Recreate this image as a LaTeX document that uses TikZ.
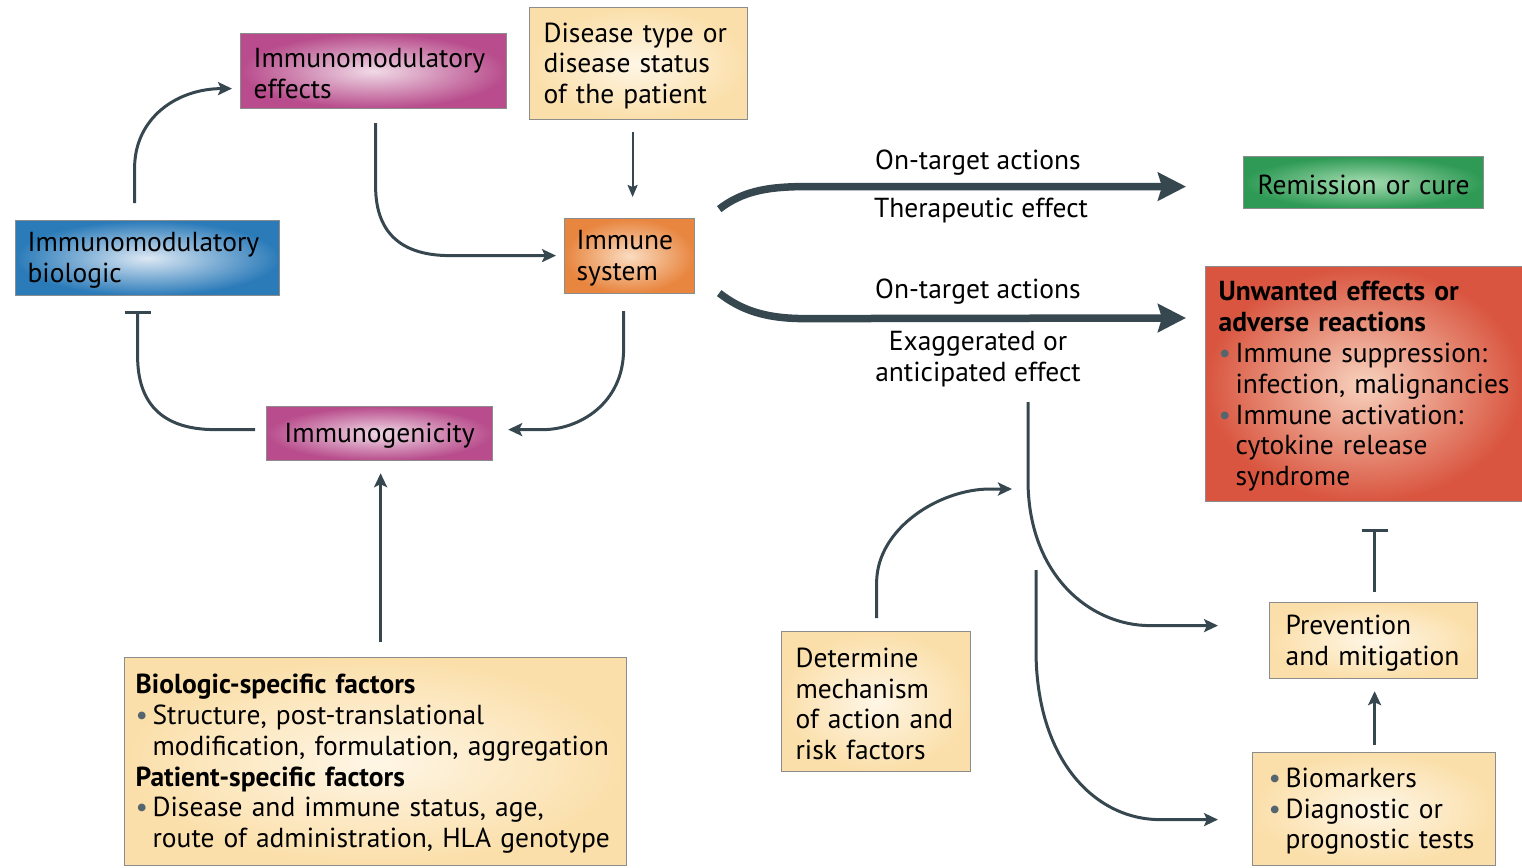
\documentclass[tikz,border=0pt]{standalone}
\usepackage{fontspec}
\setmainfont{PT Sans}
\usetikzlibrary{arrows.meta,calc}
\definecolor{arrowc}{HTML}{37474F}
\definecolor{bordc}{HTML}{8C8C8C}
\definecolor{magout}{HTML}{B84C8C}
\definecolor{magin}{HTML}{F0DAE6}
\definecolor{blueout}{HTML}{2B7BB9}
\definecolor{bluein}{HTML}{DCE8F4}
\definecolor{orout}{HTML}{E8853F}
\definecolor{orin}{HTML}{FADCC0}
\definecolor{yelout}{HTML}{FBDFAA}
\definecolor{yelin}{HTML}{FEF6E6}
\definecolor{grout}{HTML}{2E9A55}
\definecolor{grin}{HTML}{A6DDB2}
\definecolor{redout}{HTML}{D9553F}
\definecolor{redin}{HTML}{F7D2BE}
\definecolor{bulc}{HTML}{55656E}
\newcommand{\fsz}{\fontsize{27.5}{30.8}\selectfont}
\newcommand{\bulitem}{\makebox[17pt][l]{\textcolor{bulc}{\textbullet}}}
\newcommand{\bulind}{\hspace*{17pt}}
\newcommand{\topstrut}{\rule{0pt}{24pt}}
\begin{document}
\begin{tikzpicture}[x=1pt,y=-1pt,
  box/.style={draw=bordc,line width=1.2pt,anchor=north west,align=left,inner ysep=0pt,font=\fsz},
  mag/.style={box,inner color=magin,outer color=magout},
  yel/.style={box,inner color=yelin,outer color=yelout},
  lbl/.style={font=\fsz,inner sep=0pt},
  arr/.style={draw=arrowc,line width=3pt,-{Stealth[length=14pt,width=13pt,inset=3pt]}},
  thinarr/.style={draw=arrowc,line width=2pt,-{Stealth[length=12pt,width=10pt,inset=2pt]}},
  fat/.style={draw=arrowc,line width=7.5pt,-{Stealth[length=28pt,width=28pt,inset=4pt]}},
  tbar/.style={draw=arrowc,line width=3pt,-{Bar[width=26pt]}}]
\useasboundingbox (0,0) rectangle (1522,867);

% boxes
\node[mag,text width=240pt,inner xsep=13pt,minimum height=75pt] (effects) at (240,33) {\topstrut Immunomodulatory\\effects};
\node[yel,text width=190pt,inner xsep=14pt,minimum height=112pt] (disease) at (529,7) {\topstrut Disease type or\\disease status\\of the patient};
\node[box,inner color=bluein,outer color=blueout,text width=240pt,inner xsep=12pt,minimum height=75pt] (bio) at (15,220) {\topstrut Immunomodulatory\\biologic};
\node[box,inner color=orin,outer color=orout,text width=106pt,inner xsep=12pt,minimum height=75pt] (immune) at (564,218) {\topstrut Immune\\system};
\node[mag,align=center,text width=206pt,inner xsep=10pt,minimum height=54pt] (immgen) at (266,406) {\topstrut Immunogenicity};
\node[box,inner color=grin,outer color=grout,align=center,text width=220pt,inner xsep=10pt,minimum height=52pt] (remission) at (1243,156) {\topstrut Remission or cure};
\node[box,inner color=redin,outer color=redout,text width=291pt,inner xsep=13pt,minimum height=235pt] (unwanted) at (1205,266) {\topstrut\textbf{Unwanted effects or}\\\textbf{adverse reactions}\\\bulitem Immune suppression:\\\bulind infection, malignancies\\\bulitem Immune activation:\\\bulind cytokine release\\\bulind syndrome};
\node[yel,text width=480pt,inner xsep=11pt,minimum height=208pt] (factors) at (124,657) {\topstrut\textbf{Biologic-specific factors}\\\bulitem Structure, post-translational\\\bulind modification, formulation, aggregation\\\textbf{Patient-specific factors}\\\bulitem Disease and immune status, age,\\\bulind route of administration, HLA genotype};
\node[yel,text width=161pt,inner xsep=14pt,minimum height=140pt] (determine) at (781,631) {\topstrut Determine\\mechanism\\of action and\\risk factors};
\node[yel,text width=176pt,inner xsep=16pt,minimum height=76pt] (prevent) at (1269,602) {\topstrut Prevention\\and mitigation};
\node[yel,text width=211pt,inner xsep=16pt,minimum height=113pt] (biomark) at (1252,752) {\topstrut\bulitem Biomarkers\\\bulitem Diagnostic or\\\bulind prognostic tests};

% labels
\node[lbl] (ot1) at (978,163) {On-target actions};
\node[lbl] (te) at (981,211) {Therapeutic effect};
\node[lbl] (ot2) at (978,292) {On-target actions};
\node[lbl,align=center] (exag) at (978,359) {Exaggerated or\\anticipated effect};

\coordinate (vstart) at (1028,402);
\coordinate (vtwo) at (1036,570);

% connectors
\draw[arr] ($(bio.north)+(-13,-17)$) -- ++(0,-35) .. controls +(0,-50) and +(-55,0) .. ($(effects.west)+(-8,17.5)$);
\draw[arr] ($(effects.south)+(2,14)$) -- ++(0,63) .. controls +(0,50) and +(-45,0) .. ($(immune.west)+(-114,-0.5)$) -- ($(immune.west)+(-8,-0.5)$);
\draw[thinarr] ($(disease.south)+(-6,12)$) -- ($(immune.north)+(3,-21)$);
\draw[arr] ($(immune.south)+(-6,17)$) -- ++(0,38) .. controls +(0,55) and +(35,0) .. ($(immgen.east)+(50,-4)$) -- ($(immgen.east)+(15,-4)$);
\draw[tbar] ($(immgen.west)+(-11,-4)$) -- ++(-40,0) .. controls +(-55,0) and +(0,45) .. ($(bio.south)+(-10,60)$) -- ($(bio.south)+(-10,15)$);
\draw[arr] ($(factors.north)+(5,-15)$) -- ($(immgen.south)+(1,12)$);
\draw[fat] ($(immune.east)+(24,-47)$) .. controls +(22,-17) and +(-40,0) .. ($(immune.east)+(110,-69.5)$) -- ($(remission.west)+(-57,4)$);
\draw[fat] ($(immune.east)+(24,37)$) .. controls +(22,17) and +(-40,0) .. ($(immune.east)+(110,62.5)$) -- ($(unwanted.north west)+(-19,52)$);
\draw[arr] (vstart) -- ++(0,78) .. controls +(0,95) and +(-60,0) .. ($(prevent.west)+(-119,-15)$) -- ($(prevent.west)+(-51,-15)$);
\draw[arr] (vtwo) -- ++(0,80) .. controls +(0,110) and +(-65,0) .. ($(biomark.west)+(-92,10.5)$) -- ($(biomark.west)+(-34,10.5)$);
\draw[arr] ($(determine.north)+(0.5,-13)$) -- ++(0,-35) .. controls +(0,-55) and +(-50,0) .. ($(vstart)+(-38,87)$) -- ($(vstart)+(-16,87)$);
\draw[tbar] ($(prevent.north)+(1,-10)$) -- ($(unwanted.south)+(10.5,27)$);
\draw[arr] ($(biomark.north)+(0.5,-7)$) -- ($(prevent.south)+(1,12)$);
\end{tikzpicture}
\end{document}
